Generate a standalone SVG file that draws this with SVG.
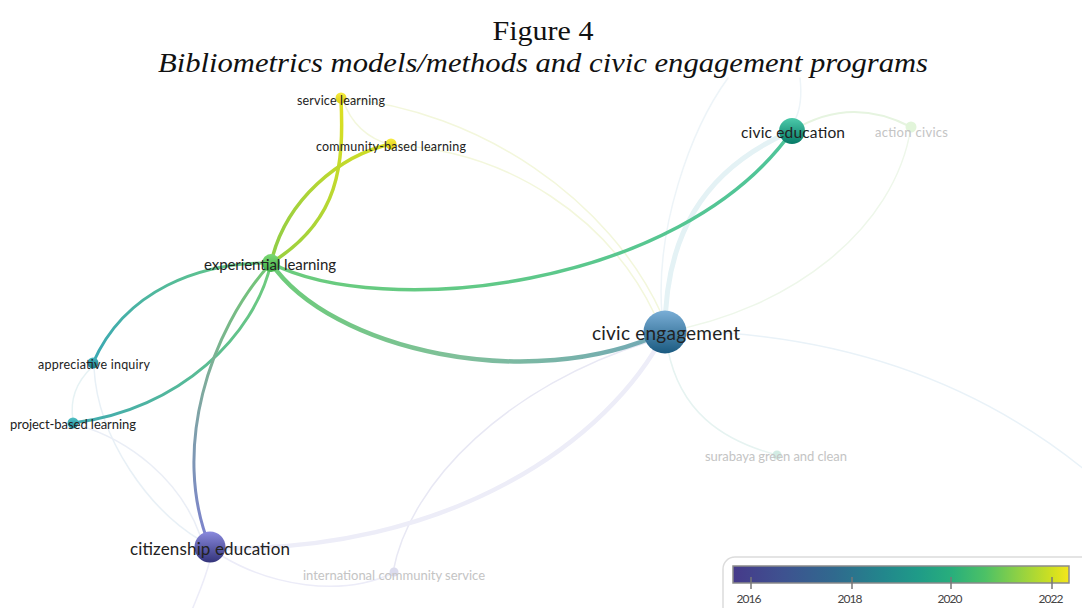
<svg xmlns="http://www.w3.org/2000/svg" width="1082" height="608" viewBox="0 0 1082 608">
<style>
.title{font-family:"Liberation Serif",serif;font-size:28px;fill:#111;text-anchor:middle}
.lbl{font-family:Lato,"Liberation Sans",sans-serif;fill:#222;text-anchor:middle}
.faintlbl{font-family:Lato,"Liberation Sans",sans-serif;fill:#c4c4c4;text-anchor:middle}
.e{fill:none;stroke-linecap:round}
.thin{stroke-width:1.5}
.tick{font-family:Lato,"Liberation Sans",sans-serif;font-size:12px;fill:#444;text-anchor:middle}
</style>
<defs>
<linearGradient id="gA" gradientUnits="userSpaceOnUse" x1="341" y1="98" x2="271" y2="263"><stop offset="0" stop-color="#dfe020"/><stop offset="1" stop-color="#98d040"/></linearGradient>
<linearGradient id="gB" gradientUnits="userSpaceOnUse" x1="391" y1="144" x2="271" y2="263"><stop offset="0" stop-color="#d6de22"/><stop offset="1" stop-color="#8ccc48"/></linearGradient>
<linearGradient id="gC" gradientUnits="userSpaceOnUse" x1="271" y1="263" x2="93" y2="363"><stop offset="0" stop-color="#6ccc80"/><stop offset="1" stop-color="#3aa8b4"/></linearGradient>
<linearGradient id="gD" gradientUnits="userSpaceOnUse" x1="271" y1="263" x2="73" y2="423"><stop offset="0" stop-color="#70cc7c"/><stop offset="1" stop-color="#40aab0"/></linearGradient>
<linearGradient id="gE" gradientUnits="userSpaceOnUse" x1="271" y1="263" x2="210" y2="547"><stop offset="0" stop-color="#72c874"/><stop offset="0.5" stop-color="#7fa8a0"/><stop offset="1" stop-color="#7c80d0"/></linearGradient>
<linearGradient id="gF" gradientUnits="userSpaceOnUse" x1="271" y1="263" x2="665" y2="332"><stop offset="0" stop-color="#6ccc78"/><stop offset="0.5" stop-color="#80c09a"/><stop offset="1" stop-color="#72a8b6"/></linearGradient>
<linearGradient id="gG" gradientUnits="userSpaceOnUse" x1="271" y1="263" x2="792" y2="131"><stop offset="0" stop-color="#6ccc7c"/><stop offset="1" stop-color="#4ec49a"/></linearGradient>
<linearGradient id="bar" x1="0" y1="0" x2="1" y2="0">
<stop offset="0" stop-color="#463a8a"/><stop offset="0.15" stop-color="#3e5290"/><stop offset="0.3" stop-color="#30698e"/><stop offset="0.45" stop-color="#22878c"/><stop offset="0.55" stop-color="#1f9b88"/><stop offset="0.65" stop-color="#28ae7c"/><stop offset="0.75" stop-color="#4cc166"/><stop offset="0.85" stop-color="#8fd144"/><stop offset="0.95" stop-color="#d0e020"/><stop offset="1" stop-color="#f4e61c"/>
</linearGradient>
<linearGradient id="nYel" x1="0" y1="0" x2="0" y2="1"><stop offset="0" stop-color="#f7ec44"/><stop offset="1" stop-color="#dccc10"/></linearGradient>
<linearGradient id="nExp" x1="0" y1="0" x2="0" y2="1"><stop offset="0" stop-color="#7cd874"/><stop offset="1" stop-color="#3fae46"/></linearGradient>
<linearGradient id="nApp" x1="0" y1="0" x2="0" y2="1"><stop offset="0" stop-color="#44b4bc"/><stop offset="1" stop-color="#1a7a8a"/></linearGradient>
<linearGradient id="nPro" x1="0" y1="0" x2="0" y2="1"><stop offset="0" stop-color="#50c0c4"/><stop offset="1" stop-color="#1f8c9c"/></linearGradient>
<linearGradient id="nCit" x1="0" y1="0" x2="0" y2="1"><stop offset="0" stop-color="#8a8ade"/><stop offset="1" stop-color="#33337a"/></linearGradient>
<linearGradient id="nEng" x1="0" y1="0" x2="0" y2="1"><stop offset="0" stop-color="#7aaed6"/><stop offset="1" stop-color="#1a5a80"/></linearGradient>
<linearGradient id="nEdu" x1="0" y1="0" x2="0" y2="1"><stop offset="0" stop-color="#4ccaaa"/><stop offset="1" stop-color="#067a66"/></linearGradient>
</defs>
<rect width="1082" height="608" fill="#ffffff"/>
<text class="title" x="543" y="40" textLength="101" lengthAdjust="spacingAndGlyphs">Figure 4</text>
<text class="title" x="543" y="72" font-style="italic" textLength="770" lengthAdjust="spacingAndGlyphs">Bibliometrics models/methods and civic engagement programs</text>
<g id="connectors">
<path class="e thin" stroke="#edf4f8" d="M728,78 C690,130 655,230 662,315"/>
<path class="e thin" stroke="#edf4f8" d="M800,78 C802,95 800,110 795,120"/>
<path class="e thin" stroke="#f3f7dc" d="M341,98 C480,110 610,200 662,315"/>
<path class="e thin" stroke="#f3f7dc" d="M391,145 C510,150 610,220 655,315"/>
<path class="e thin" stroke="#f3f7dc" d="M343,100 Q355,135 391,145"/>
<path class="e thin" stroke="#eef7ea" d="M911,127 C895,230 790,310 665,332"/>
<path class="e" stroke="#e6f4e0" stroke-width="2" d="M792,131 Q850,95 911,127"/>
<path class="e thin" stroke="#e6f3f1" d="M668,350 C680,410 720,440 777,455"/>
<path class="e thin" stroke="#e9f2f8" d="M685,331 C850,335 980,385 1085,470"/>
<path class="e thin" stroke="#e8e8f4" d="M393,572 C410,480 510,385 648,342"/>
<path class="e thin" stroke="#ececf8" d="M222,556 C270,585 340,598 393,573"/>
<path class="e thin" stroke="#ececf8" d="M210,560 C205,580 198,595 192,610"/>
<path class="e thin" stroke="#e8f0f6" d="M94,368 C98,440 150,510 200,540"/>
<path class="e thin" stroke="#eaeef6" d="M78,425 C130,440 180,480 200,535"/>
<path class="e thin" stroke="#e6f2f4" d="M92,367 Q68,390 73,420"/>
<path class="e" stroke="#e4f2f5" stroke-width="5" d="M665,332 C665,240 700,170 792,131"/>
<path class="e" stroke="#ededf8" stroke-width="4.5" d="M665,332 C610,440 450,555 210,548"/>
<path class="e" stroke="url(#gA)" stroke-width="3.5" d="M341,98 C344,165 340,220 271,263"/>
<path class="e" stroke="url(#gB)" stroke-width="3.5" d="M391,144 C340,155 285,200 271,263"/>
<path class="e" stroke="url(#gC)" stroke-width="3" d="M271,263 C200,262 125,290 93,363"/>
<path class="e" stroke="url(#gD)" stroke-width="3" d="M271,263 C255,335 180,410 73,423"/>
<path class="e" stroke="url(#gE)" stroke-width="3" d="M271,263 C210,330 170,450 210,547"/>
<path class="e" stroke="url(#gF)" stroke-width="4.5" d="M271,263 C330,350 530,395 665,332"/>
<path class="e" stroke="url(#gG)" stroke-width="3.5" d="M271,263 C380,320 680,290 792,131"/>
</g>
<g id="node-action-civics"><circle cx="911" cy="127" r="5.5" fill="#e2f5da"/><text class="faintlbl" x="911.5" y="136.5" font-size="13" textLength="73">action civics</text></g>
<g id="node-surabaya"><circle cx="777" cy="455" r="4.5" fill="#d2ece4"/><text class="faintlbl" x="776" y="460.5" font-size="13" textLength="142">surabaya green and clean</text></g>
<g id="node-international"><circle cx="394" cy="572" r="4.5" fill="#dcdcee"/><text class="faintlbl" x="394" y="579.5" font-size="13" textLength="182">international community service</text></g>
<g id="node-service-learning"><circle cx="341" cy="98" r="5.5" fill="url(#nYel)"/><text class="lbl" x="341" y="105" font-size="12.5" textLength="88">service learning</text></g>
<g id="node-community-based-learning"><circle cx="391" cy="144" r="5.5" fill="url(#nYel)"/><text class="lbl" x="391" y="151" font-size="12.5" textLength="150">community-based learning</text></g>
<g id="node-experiential-learning"><circle cx="271" cy="263" r="9" fill="url(#nExp)"/><text class="lbl" x="270" y="269.5" font-size="15" textLength="132">experiential learning</text></g>
<g id="node-appreciative-inquiry"><circle cx="93" cy="363" r="5.5" fill="url(#nApp)"/><text class="lbl" x="94" y="369" font-size="12.5" textLength="112">appreciative inquiry</text></g>
<g id="node-project-based-learning"><circle cx="73" cy="423" r="5.5" fill="url(#nPro)"/><text class="lbl" x="73" y="428.5" font-size="13" textLength="126">project-based learning</text></g>
<g id="node-citizenship-education"><circle cx="210" cy="547" r="15.5" fill="url(#nCit)"/><text class="lbl" x="210" y="555" font-size="17" textLength="160">citizenship education</text></g>
<g id="node-civic-engagement"><circle cx="665" cy="332" r="21.5" fill="url(#nEng)"/><text class="lbl" x="666" y="340" font-size="19" textLength="148">civic engagement</text></g>
<g id="node-civic-education"><circle cx="792" cy="131" r="13" fill="url(#nEdu)"/><text class="lbl" x="793" y="138" font-size="15.5" textLength="104">civic education</text></g>
<g id="legend">
<rect x="723" y="557" width="372" height="62" rx="12" fill="#ffffff" stroke="#dcdcdc" stroke-width="1.5"/>
<rect x="733" y="566" width="336" height="17" fill="url(#bar)" stroke="#8a8a8a" stroke-width="1.5"/>
<g stroke="#777" stroke-width="1.5"><line x1="751" y1="577" x2="751" y2="589"/><line x1="852" y1="577" x2="852" y2="589"/><line x1="951" y1="577" x2="951" y2="589"/><line x1="1052" y1="577" x2="1052" y2="589"/></g>
<text class="tick" x="749" y="603" textLength="25">2016</text>
<text class="tick" x="850" y="603" textLength="25">2018</text>
<text class="tick" x="950" y="603" textLength="25">2020</text>
<text class="tick" x="1051" y="603" textLength="25">2022</text>
</g>
</svg>
